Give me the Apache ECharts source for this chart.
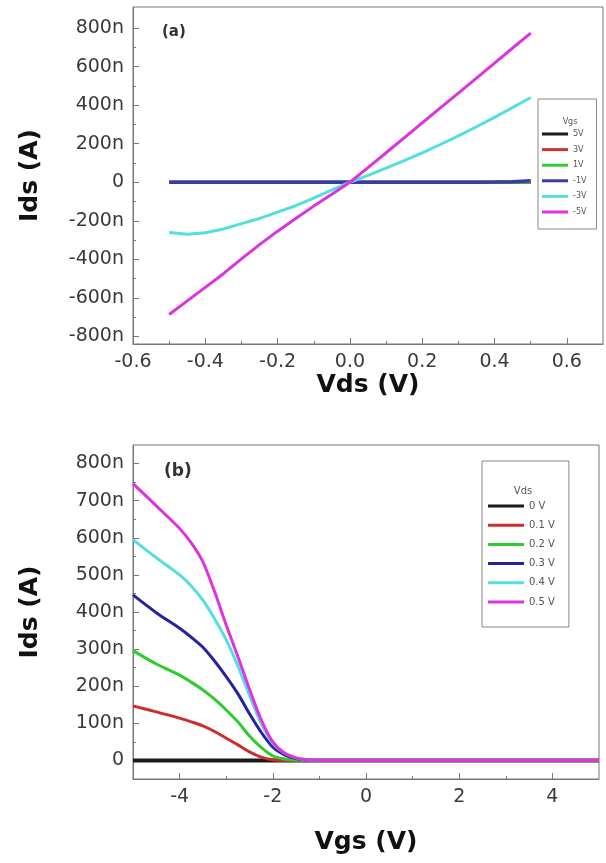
<!DOCTYPE html>
<html>
<head>
<meta charset="utf-8">
<script src="https://cdn.jsdelivr.net/npm/echarts@6/dist/echarts.min.js"></script>
<style>
  html, body { margin: 0; padding: 0; background: #fff; }
  #chart { width: 606px; height: 863px; }
</style>
</head>
<body>
<div id="chart"></div>
<script>
// (a) Ids - Vds, 单位 nA
var vdsA = [-0.5, -0.45, -0.4, -0.35, -0.3, -0.25, -0.2, -0.15, -0.1, -0.05, 0,
  0.05, 0.1, 0.15, 0.2, 0.25, 0.3, 0.35, 0.4, 0.45, 0.5];
var vgsNamesA = ['5V', '3V', '1V', '-1V', '-3V', '-5V'];
var idsVgs5 = [0, 0, 0, 0, 0, 0, 0, 0, 0, 0, 0, 0, 0, 0, 0, 0, 0, 0, 0, 0, 0];
var idsVgs3 = [0, 0, 0, 0, 0, 0, 0, 0, 0, 0, 0, 0, 0, 0, 0, 0, 0, 0, 0, 0, 0];
var idsVgs1 = [0, 0, 0, 0, 0, 0, 0, 0, 0, 0, 0, 0, 0, 0, 0, 0, 0, 0, 0, 0, 0];
var idsVgsM1 = [0, 0, 0, 0, 0, 0, 0, 0, 0, 0, 0, 0, 0, 0, 0, 0, 0, 0, 1, 3, 8];
var idsVgsM3 = [-261, -270, -262, -243, -215, -188, -155, -122, -82, -40, 0,
  36, 73, 112, 153, 196, 241, 288, 337, 388, 440];
var idsVgsM5 = [-687, -616, -546, -475, -398, -324, -254, -188, -124, -62, 0,
  76, 153, 230, 308, 386, 463, 541, 619, 697, 774];

// (b) Ids - Vgs, 单位 nA
var vgsB = [-5, -4.5, -4, -3.75, -3.5, -3.25, -3, -2.75, -2.5, -2.25, -2, -1.75, -1.5, -1.25, -1,
  -0.5, 0, 1, 2, 3, 4, 5];
var vdsNamesB = ['0 V', '0.1 V', '0.2 V', '0.3 V', '0.4 V', '0.5 V'];
var idsVds0 = [0, 0, 0, 0, 0, 0, 0, 0, 0, 0, 0, 0, 0, 0, 0, 0, 0, 0, 0, 0, 0, 0];
var idsVds01 = [147, 131, 114, 104, 93, 78, 60, 42, 23, 9, 2, 0, 0, 0, 0, 0, 0, 0, 0, 0, 0, 0];
var idsVds02 = [296, 260, 230, 211, 190, 165, 136, 104, 66, 35, 12, 4, 1, 0, 0, 0, 0, 0, 0, 0, 0, 0];
var idsVds03 = [446, 398, 356, 332, 305, 268, 226, 180, 126, 76, 36, 15, 5, 1, 0, 0, 0, 0, 0, 0, 0, 0];
var idsVds04 = [595, 546, 500, 470, 432, 382, 325, 255, 175, 100, 46, 20, 7, 2, 0, 0, 0, 0, 0, 0, 0, 0];
var idsVds05 = [746, 686, 625, 586, 535, 455, 365, 280, 192, 110, 50, 20, 7, 2, 0, 0, 0, 0, 0, 0, 0, 0];

// 刻度
var xMajorA = [-0.6, -0.4, -0.2, 0, 0.2, 0.4, 0.6];
var xMinorA = [-0.5, -0.3, -0.1, 0.1, 0.3, 0.5];
var yMajorA = [-800, -600, -400, -200, 0, 200, 400, 600, 800];
var yMinorA = [-700, -500, -300, -100, 100, 300, 500, 700];
var xMajorB = [-4, -2, 0, 2, 4];
var xMinorB = [-3, -1, 1, 3];
var yMajorB = [0, 100, 200, 300, 400, 500, 600, 700, 800];
var yMinorB = [50, 150, 250, 350, 450, 550, 650, 750];

var colors = ['#1a1a1a', '#cc3333', '#33cc33', '#3a3aa8', '#55dede', '#dd33dd'];
var colorsB = ['#1a1a1a', '#cc2d2d', '#2fcc2f', '#2424a0', '#55dede', '#e033e0'];
var labelColor = '#3a3a3a';
var frameColor = '#777';

function pairs(xs, ys) {
  return xs.map(function (x, i) { return [x, ys[i]]; });
}
function nFmt(v) {
  return v === 0 ? '0' : v + 'n';
}

var myChart = echarts.init(document.getElementById('chart'));

// 主坐标轴
function mainAxis(grid, pos, min, max, major, fmt, extra) {
  var a = {
    type: 'value',
    gridIndex: grid,
    position: pos,
    min: min,
    max: max,
    splitLine: { show: false },
    axisLine: { show: true, onZero: false, lineStyle: { color: frameColor, width: 1 } },
    axisTick: { show: true, inside: true, length: 6, customValues: major, lineStyle: { color: frameColor } },
    axisLabel: {
      customValues: major,
      formatter: fmt,
      color: labelColor,
      fontFamily: 'DejaVu Sans',
      fontSize: 19,
      margin: 9
    },
    nameTextStyle: { fontFamily: 'DejaVu Sans', fontWeight: 'bold', fontSize: 25, color: '#111' }
  };
  for (var k in extra) a[k] = extra[k];
  return a;
}
// 次刻度（只画短刻度）
function minorAxis(grid, pos, min, max, minor) {
  return {
    type: 'value',
    gridIndex: grid,
    position: pos,
    min: min,
    max: max,
    splitLine: { show: false },
    axisLine: { show: false, onZero: false },
    axisLabel: { show: false },
    axisTick: { show: true, inside: true, length: 3, customValues: minor, lineStyle: { color: frameColor } }
  };
}

function lineSeries(name, xs, ys, color, xi, yi, width, smooth) {
  return {
    name: name,
    type: 'line',
    xAxisIndex: xi,
    yAxisIndex: yi,
    data: pairs(xs, ys),
    smooth: smooth,
    symbol: 'none',
    color: color,
    lineStyle: { color: color, width: width }
  };
}

var seriesA = [idsVgs5, idsVgs3, idsVgs1, idsVgsM1, idsVgsM3, idsVgsM5];
var seriesB = [idsVds0, idsVds01, idsVds02, idsVds03, idsVds04, idsVds05];
var series = [];
seriesA.forEach(function (ys, i) {
  series.push(lineSeries(vgsNamesA[i], vdsA, ys, colors[i], 0, 0, i === 3 ? 3.5 : 3, false));
});
seriesB.forEach(function (ys, i) {
  series.push(lineSeries(vdsNamesB[i], vgsB, ys, colorsB[i], 2, 2, i === 0 ? 4 : 3, 0.3));
});

var legendBase = {
  orient: 'vertical',
  icon: 'rect',
  itemHeight: 3,
  borderColor: '#888',
  borderWidth: 1,
  borderRadius: 0
};

var option = {
  backgroundColor: '#fff',
  animation: false,
  title: [
    { text: '(a)', left: 157, top: 20, textStyle: { fontFamily: 'DejaVu Sans', fontWeight: 'bold', fontSize: 15, color: '#333' } },
    { text: '(b)', left: 159, top: 458, textStyle: { fontFamily: 'DejaVu Sans', fontWeight: 'bold', fontSize: 17, color: '#333' } },
    { text: 'Vgs', left: 565, top: 113, textAlign: 'center', textStyle: { fontFamily: 'DejaVu Sans', fontWeight: 'normal', fontSize: 8, color: '#555' } },
    { text: 'Vds', left: 518, top: 481, textAlign: 'center', textStyle: { fontFamily: 'DejaVu Sans', fontWeight: 'normal', fontSize: 10, color: '#555' } }
  ],
  legend: [
    Object.assign({}, legendBase, {
      data: vgsNamesA,
      left: 538,
      top: 99,
      padding: [31, 10, 13, 4],
      itemWidth: 26,
      itemGap: 7.6,
      itemTextGap: 2,
      textStyle: { fontFamily: 'DejaVu Sans', fontSize: 8, lineHeight: 8, color: '#555' }
    }),
    Object.assign({}, legendBase, {
      data: vdsNamesB,
      left: 482,
      top: 461,
      padding: [40, 14, 20, 6],
      itemWidth: 36,
      itemGap: 9.2,
      itemTextGap: 3,
      textStyle: { fontFamily: 'DejaVu Sans', fontSize: 10, lineHeight: 10, color: '#555' }
    })
  ],
  grid: [
    { left: 133, top: 7, right: 3, bottom: 519, show: true, borderColor: frameColor, borderWidth: 1, backgroundColor: 'transparent' },
    { left: 133, top: 445, right: 7, bottom: 84, show: true, borderColor: frameColor, borderWidth: 1, backgroundColor: 'transparent' }
  ],
  xAxis: [
    mainAxis(0, 'bottom', -0.6, 0.7, xMajorA, function (v) { return v.toFixed(1); },
      { name: 'Vds (V)', nameLocation: 'middle', nameGap: 25 }),
    minorAxis(0, 'bottom', -0.6, 0.7, xMinorA),
    mainAxis(1, 'bottom', -5, 5, xMajorB, function (v) { return String(v); },
      { name: 'Vgs (V)', nameLocation: 'middle', nameGap: 51 }),
    minorAxis(1, 'bottom', -5, 5, xMinorB)
  ],
  yAxis: [
    mainAxis(0, 'left', -840, 910, yMajorA, nFmt,
      { name: 'Ids (A)', nameLocation: 'middle', nameGap: 90 }),
    minorAxis(0, 'left', -840, 910, yMinorA),
    mainAxis(1, 'left', -50, 850, yMajorB, nFmt,
      { name: 'Ids (A)', nameLocation: 'middle', nameGap: 90 }),
    minorAxis(1, 'left', -50, 850, yMinorB)
  ],
  series: series
};

myChart.setOption(option);
window.addEventListener('resize', function () {
  myChart.resize();
});
</script>
</body>
</html>
